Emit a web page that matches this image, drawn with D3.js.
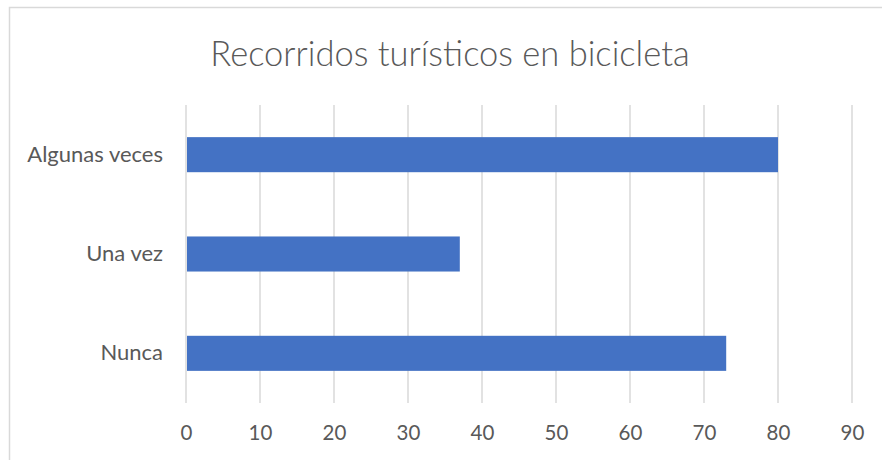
<!DOCTYPE html>
<html>
<head>
<meta charset="utf-8">
<script src="https://cdn.jsdelivr.net/npm/d3@7"></script>
<style>
  body { margin: 0; background: #fff; }
  text { font-family: Lato, "Open Sans", sans-serif; fill: #595959; }
</style>
</head>
<body>
<div id="chart"></div>
<script>
const categories = ["Algunas veces", "Una vez", "Nunca"];
const values = [80, 37, 73];
const xTicks = [0, 10, 20, 30, 40, 50, 60, 70, 80, 90];
const chartTitle = "Recorridos turísticos en bicicleta";

const width = 882, height = 460;

var svg = d3.select("#chart")
    .append("svg")
    .attr("width", width)
    .attr("height", height)

// chart frame (runs past right and bottom edge like the screenshot)
svg.append("rect")
    .attr("x", 9.5)
    .attr("y", 7.5)
    .attr("width", 920)
    .attr("height", 500)
    .attr("fill", "none")
    .attr("stroke", "#d9d9d9")
    .attr("stroke-width", 1.5)

var xscale = d3.scaleLinear()
    .domain([0, 90])
    .range([186, 852]);

var yscale = d3.scaleBand()
    .domain(categories)
    .range([105, 403])
    .paddingInner(0.647)
    .paddingOuter(0.3235);

// vertical gridlines
svg.append("g")
    .selectAll("line")
    .data(xTicks)
    .enter()
    .append("line")
    .attr("x1", d => xscale(d))
    .attr("x2", d => xscale(d))
    .attr("y1", 105)
    .attr("y2", 403)
    .attr("stroke", "#d9d9d9")
    .attr("stroke-width", 1.5)

// bars
svg.append("g")
    .selectAll("rect")
    .data(categories)
    .enter()
    .append("rect")
    .attr("x", xscale(0) + 1)
    .attr("y", d => yscale(d))
    .attr("width", (d, i) => xscale(values[i]) - xscale(0) - 1)
    .attr("height", yscale.bandwidth())
    .attr("fill", "#4472c4")

// x axis labels
var xaxis = svg.append("g")
    .attr("transform", "translate(0, 421)")
    .call(d3.axisBottom(xscale).tickValues(xTicks).tickSize(0).tickPadding(0))
xaxis.select(".domain").remove();
xaxis.selectAll("text")
    .attr("dy", "0.95em")
    .style("font-size", "20.5px")
    .style("font-family", "Lato, sans-serif")
    .attr("fill", "#595959")

// y axis labels
var yaxis = svg.append("g")
    .attr("transform", "translate(163, 0)")
    .call(d3.axisLeft(yscale).tickSize(0).tickPadding(0))
yaxis.select(".domain").remove();
yaxis.selectAll("text")
    .style("font-size", "22px")
    .style("font-family", "Lato, sans-serif")
    .attr("fill", "#595959")

svg.append("text")
    .attr("x", 450)
    .attr("y", 66)
    .style("text-anchor", "middle")
    .style("font-size", "34.5px")
    .style("font-weight", 300)
    .text(chartTitle)
</script>
</body>
</html>
